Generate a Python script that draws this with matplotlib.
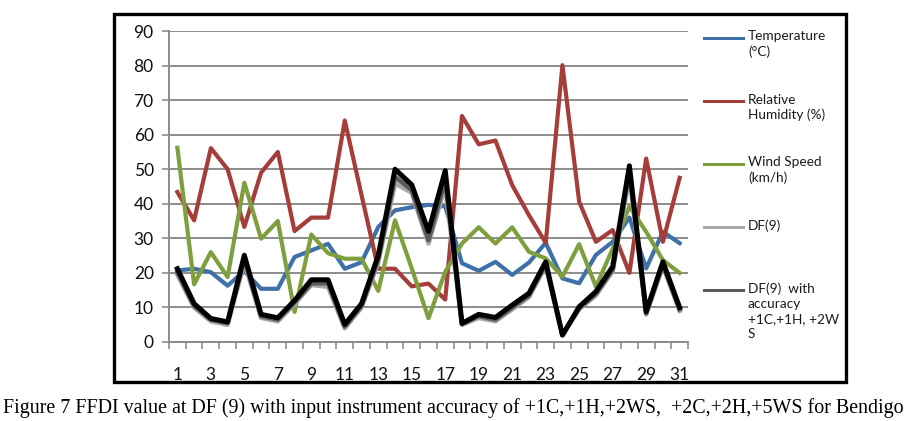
import matplotlib
matplotlib.use('Agg')
import matplotlib.pyplot as plt
from matplotlib.lines import Line2D
from matplotlib.patches import Rectangle
import numpy as np

days = list(range(1, 32))

temperature = [20.7, 21.2, 20.2, 16.3, 20.5, 15.4, 15.4, 24.6, 26.5, 28.4, 21.2, 23.1, 33.3, 38.1, 39.0,
               39.7, 39.2, 22.8, 20.6, 23.2, 19.4, 23.0, 28.7, 18.4, 17.0, 25.2, 29.0, 36.0, 21.3, 31.9, 28.6]
humidity = [43.4, 35.2, 56.1, 50.0, 33.3, 49.0, 55.0, 32.1, 36.0, 36.0, 64.1, 42.5, 21.2, 21.2, 16.1,
            16.9, 12.3, 65.4, 57.2, 58.3, 45.4, 36.7, 28.7, 80.1, 40.6, 29.0, 32.4, 20.0, 53.1, 29.0, 47.5]
wind = [56.2, 16.7, 26.0, 18.8, 46.1, 29.9, 35.0, 8.7, 31.1, 25.7, 24.1, 24.1, 14.8, 35.2, 21.3,
        6.9, 20.3, 28.5, 33.2, 28.5, 33.2, 26.1, 24.2, 18.9, 28.3, 16.0, 27.0, 39.2, 31.9, 23.7, 20.0]
df9 = [19.5, 10.0, 6.0, 5.0, 23.0, 7.0, 6.0, 11.0, 16.5, 16.0, 4.0, 10.0, 23.0, 45.9, 43.2,
       28.5, 45.0, 5.0, 7.0, 6.0, 9.5, 13.0, 22.0, 2.0, 9.5, 13.5, 20.5, 48.0, 8.0, 22.0, 9.0]
df9_acc1 = [20.3, 10.5, 6.5, 5.5, 24.0, 7.5, 6.5, 11.5, 17.0, 17.0, 4.5, 10.5, 24.0, 47.8, 44.0,
            29.5, 47.0, 5.2, 7.5, 6.5, 10.0, 13.5, 22.5, 2.0, 9.8, 14.0, 21.0, 49.5, 8.3, 22.5, 9.5]
df9_acc2 = [21.2, 11.1, 6.8, 5.8, 25.1, 8.0, 7.0, 12.0, 18.0, 18.0, 5.1, 11.1, 25.1, 50.0, 45.5,
            32.0, 49.6, 5.4, 8.0, 7.1, 10.7, 14.1, 23.2, 2.0, 10.2, 14.6, 21.8, 51.0, 8.8, 23.2, 10.0]

legend_labels = ['Temperature\n(\u00b0C)', 'Relative\nHumidity (%)', 'Wind Speed\n(km/h)', 'DF(9)',
                 'DF(9)  with\naccuracy\n+1C,+1H, +2W\nS']
caption = 'Figure 7 FFDI value at DF (9) with input instrument accuracy of +1C,+1H,+2WS,  +2C,+2H,+5WS for Bendigo'

c_blue = '#3F70A8'
c_red = '#A53D3B'
c_green = '#7F9E3D'
c_lgray = '#A8A8A8'
c_dgray = '#5A5A5A'
grid_c = '#8C8C8C'

plt.rcParams['font.family'] = ['Lato', 'DejaVu Sans']

W, H = 912, 421
fig = plt.figure(figsize=(W / 100, H / 100), dpi=100)
ax = fig.add_axes([169 / W, 1 - 342 / H, (688 - 169) / W, (342 - 31) / H])

ax.plot(days, temperature, color=c_blue, lw=3.0, solid_joinstyle='round', zorder=3)
ax.plot(days, humidity, color=c_red, lw=3.0, solid_joinstyle='round', zorder=3)
ax.plot(days, wind, color=c_green, lw=3.0, solid_joinstyle='round', zorder=3)
ax.plot(days, df9, color=c_lgray, lw=3.3, solid_joinstyle='round', zorder=4)
ax.plot(days, df9_acc1, color=c_dgray, lw=3.3, solid_joinstyle='round', zorder=5)
ax.plot(days, df9_acc2, color='black', lw=3.6, solid_joinstyle='round', zorder=6)

ax.set_xlim(0.5, 31.5)
ax.set_ylim(0, 90)
ax.set_yticks(np.arange(0, 91, 10))
ax.yaxis.grid(True, color=grid_c, lw=1.4)
ax.set_axisbelow(True)
ax.set_xticks(days[::2])
ax.set_xticks(np.arange(0.5, 32, 1), minor=True)
ax.tick_params(axis='x', which='major', length=0, pad=18, labelsize=12.5, labelcolor='#111111')
ax.tick_params(axis='x', which='minor', length=5, width=1.2, color=grid_c)
ax.tick_params(axis='y', length=5, width=1.2, color=grid_c, pad=6, labelsize=12.5, labelcolor='#111111')
for s in ['top', 'right']:
    ax.spines[s].set_visible(False)
for s in ['left', 'bottom']:
    ax.spines[s].set_color(grid_c)
    ax.spines[s].set_linewidth(1.4)

# legend drawn by hand to keep the Excel-like layout
leg_colors = [c_blue, c_red, c_green, c_lgray, c_dgray]
for i, (lab, col) in enumerate(zip(legend_labels, leg_colors)):
    y = 1 - (38 + i * 63) / H
    fig.add_artist(Line2D([704 / W, 743 / W], [y, y], color=col, lw=2.2, transform=fig.transFigure))
    fig.text(748 / W, y + 7.5 / H, lab, fontsize=9.8, va='top', ha='left', color='#1a1a1a', linespacing=1.3)

fig.add_artist(Rectangle((114 / W, 1 - 382 / H), (846 - 114) / W, (382 - 14) / H, fill=False,
                         lw=2.4, edgecolor='black', transform=fig.transFigure))

fig.text(3 / W, 1 - 408 / H, caption, fontsize=14.4, family='Liberation Serif', va='center', ha='left')

fig.savefig('out.png', dpi=100)
plt.close()
